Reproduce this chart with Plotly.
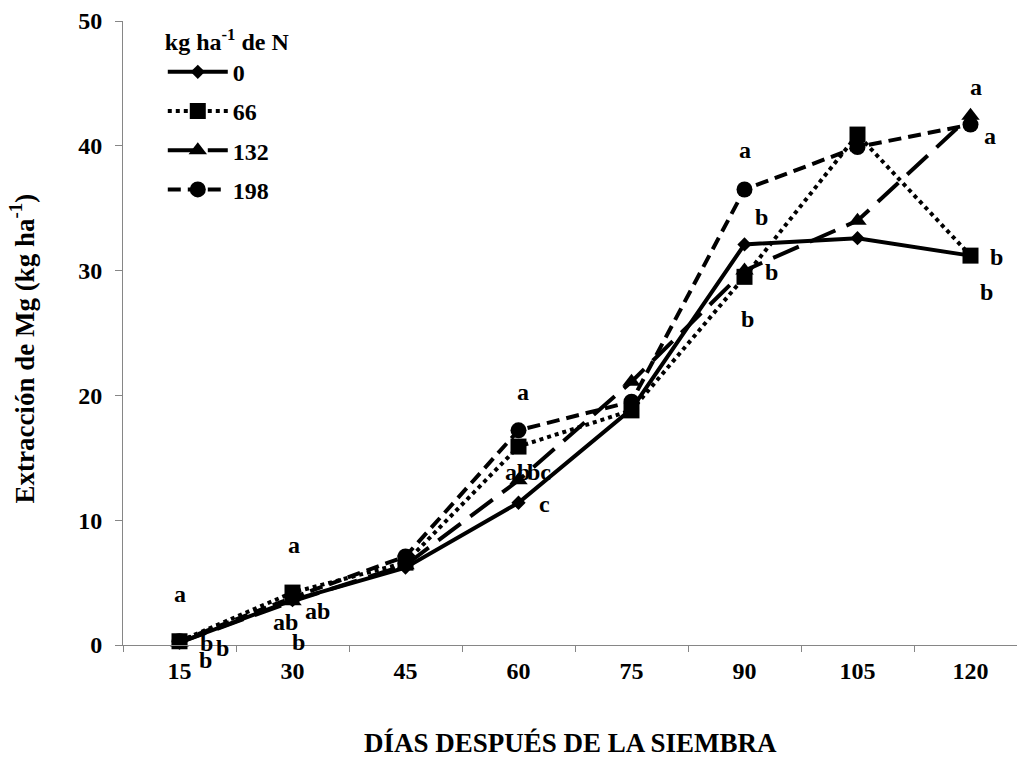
import plotly.graph_objects as go

# Days after sowing (x categories)
days = ["15", "30", "45", "60", "75", "90", "105", "120"]

# Mg extraction (kg ha-1) for each N rate (kg ha-1)
mg_n0 = [0.2, 3.6, 6.2, 11.4, 18.9, 32.1, 32.6, 31.2]
mg_n66 = [0.3, 4.2, 6.6, 15.9, 18.8, 29.5, 40.9, 31.2]
mg_n132 = [0.2, 3.5, 6.4, 13.2, 21.1, 30.0, 34.0, 42.4]
mg_n198 = [0.3, 3.8, 7.1, 17.2, 19.5, 36.5, 39.9, 41.7]

series_names = ["0", "66", "132", "198"]
y_ticks = [0, 10, 20, 30, 40, 50]

FONT = "Liberation Serif"
BLACK = "black"
AXIS_GREY = "#868686"

styles = [
    dict(symbol="diamond", size=11, dash="solid"),
    dict(symbol="square", size=16, dash="4px,4px"),
    dict(symbol="triangle-up", size=16, dash="28px,12px"),
    dict(symbol="circle", size=16, dash="13px,7px"),
]

fig = go.Figure()
for name, values, st in zip(series_names, [mg_n0, mg_n66, mg_n132, mg_n198], styles):
    fig.add_trace(
        go.Scatter(
            x=days,
            y=values,
            name=name,
            legendgroup=name,
            mode="lines+markers",
            line=dict(color=BLACK, width=4, dash=st["dash"]),
            marker=dict(symbol=st["symbol"], size=st["size"], color=BLACK,
                        line=dict(width=0)),
            cliponaxis=False,
        )
    )

# Mean-separation letters: (day, y anchor, letter, x offset px, y offset px)
letters = [
    ("15", 4.05, "a", 0, 0),
    ("15", 0.2, "b", 27, 0),
    ("15", 0.0, "b", 43, -2.5),
    ("15", 0.0, "b", 26, -14.5),
    ("30", 8.05, "a", 1, 0),
    ("30", 2.76, "ab", 25, 0),
    ("30", 1.88, "ab", -7, 0),
    ("30", 0.28, "b", 6, 0),
    ("60", 20.3, "a", 4, 0),
    ("60", 13.9, "ab", -1, 0),
    ("60", 13.9, "bc", 20, 0),
    ("60", 11.3, "c", 26, 0),
    ("90", 39.7, "a", 0, 0),
    ("90", 34.3, "b", 17, 0),
    ("90", 29.9, "b", 27, 0),
    ("90", 26.1, "b", 3, 0),
    ("120", 44.7, "a", 5, 0),
    ("120", 40.8, "a", 19, 0),
    ("120", 31.1, "b", 26, 0),
    ("120", 28.3, "b", 16, 0),
]

annotations = []
for day, yv, txt, dx, dy in letters:
    annotations.append(dict(
        x=days.index(day), y=yv, xref="x", yref="y", text=txt, showarrow=False,
        xshift=dx, yshift=dy,
        font=dict(family=FONT, size=24, color=BLACK, weight="bold"),
    ))

# Axis titles
annotations.append(dict(
    x=0.5, y=-0.157, xref="paper", yref="paper", yanchor="middle",
    text="DÍAS DESPUÉS DE LA SIEMBRA", showarrow=False,
    font=dict(family=FONT, size=27, color=BLACK, weight="bold"),
))
annotations.append(dict(
    x=-0.113, y=0.475, xref="paper", yref="paper", xanchor="center", yanchor="middle",
    text="Extracción de Mg (kg ha<sup>-1</sup>)", showarrow=False, textangle=-90,
    font=dict(family=FONT, size=27, color=BLACK, weight="bold"),
))

fig.update_layout(
    width=1017, height=758,
    margin=dict(l=123, r=0, t=21, b=113, pad=0),
    paper_bgcolor="white", plot_bgcolor="white",
    font=dict(family=FONT, size=24, color=BLACK, weight="bold"),
    showlegend=True,
    legend=dict(
        x=0.0445, y=1.004, xanchor="left", yanchor="top",
        itemwidth=60, tracegroupgap=5,
        bgcolor="rgba(0,0,0,0)",
        font=dict(family=FONT, size=24, color=BLACK, weight="bold"),
        title=dict(text="kg ha<sup>-1</sup> de N",
                   font=dict(family=FONT, size=24, color=BLACK, weight="bold")),
    ),
    annotations=annotations,
    xaxis=dict(
        type="category", categoryorder="array", categoryarray=days,
        range=[-0.5, -0.5 + 894 / 113],
        tickson="boundaries", ticks="outside", ticklen=6, tickwidth=1,
        tickcolor=AXIS_GREY, showline=True, linecolor=AXIS_GREY, linewidth=1,
        showgrid=False, zeroline=False, ticklabelstandoff=4,
        tickfont=dict(family=FONT, size=24, color=BLACK, weight="bold"),
    ),
    yaxis=dict(
        range=[0, 50], tickvals=y_ticks, ticks="outside", ticklen=7, tickwidth=1,
        tickcolor=AXIS_GREY, showline=True, linecolor=AXIS_GREY, linewidth=1,
        showgrid=False, zeroline=False, ticklabelstandoff=8,
        tickfont=dict(family=FONT, size=24, color=BLACK, weight="bold"),
    ),
)

fig.write_html("out.html")
